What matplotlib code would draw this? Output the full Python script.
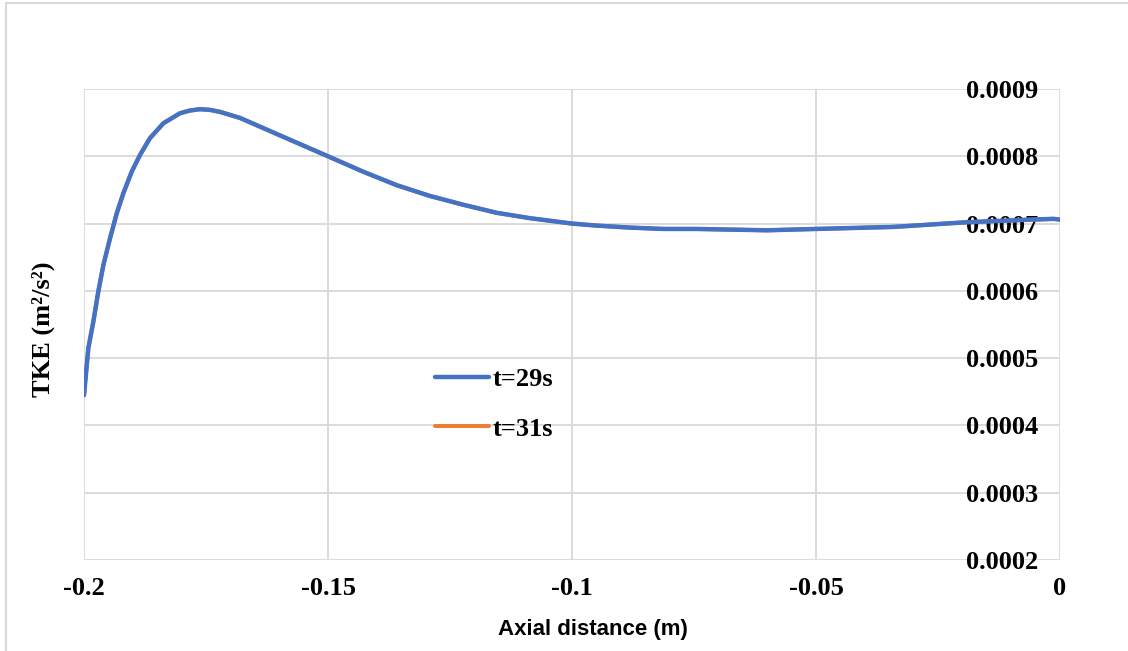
import matplotlib
matplotlib.use('Agg')
import matplotlib.pyplot as plt
from matplotlib.lines import Line2D

# axial positions (m) and turbulent kinetic energy (m2/s2)
axial = [-0.20000, -0.19911, -0.19809, -0.19707, -0.19604, -0.19467, -0.19330,
         -0.19194, -0.19023, -0.18852, -0.18648, -0.18374, -0.18033, -0.17828, -0.17623,
         -0.17418, -0.17213, -0.16803, -0.16393, -0.15920, -0.15000, -0.14276, -0.13590,
         -0.12910, -0.12230, -0.11544, -0.10860, -0.10000, -0.09495, -0.08810, -0.08129,
         -0.07450, -0.06000, -0.05000, -0.03420, -0.01910, -0.00550, -0.00140, 0.00000]
tke_29 = [0.000445, 0.000515, 0.000554, 0.000599, 0.000638, 0.000678, 0.000715,
          0.000745, 0.000777, 0.000802, 0.000827, 0.000849, 0.000864, 0.000868, 0.000870,
          0.000869, 0.000866, 0.000857, 0.000844, 0.000829, 0.000800, 0.000777, 0.000757,
          0.000741, 0.000728, 0.000716, 0.000708, 0.000700, 0.000697, 0.000694, 0.000692,
          0.000692, 0.000690, 0.000692, 0.000695, 0.000702, 0.000706, 0.000707, 0.000706]
# second time step sits right under the first one
tke_31 = list(tke_29)

x_ticks = [-0.2, -0.15, -0.1, -0.05, 0]
x_labels = ['-0.2', '-0.15', '-0.1', '-0.05', '0']
y_ticks = [0.0002, 0.0003, 0.0004, 0.0005, 0.0006, 0.0007, 0.0008, 0.0009]
y_labels = ['0.0002', '0.0003', '0.0004', '0.0005', '0.0006', '0.0007', '0.0008', '0.0009']

serif = 'Liberation Serif'
grid_col = '#d9d9d9'
fs = 19

fig = plt.figure(figsize=(11.28, 6.51), dpi=100)
ax = fig.add_axes([84 / 1128, 1 - 560 / 651, 976 / 1128, 471 / 651])

ax.plot(axial, tke_31, color='#ED7D31', lw=2.9, label='t=31s',
        solid_capstyle='round', solid_joinstyle='round')
ax.plot(axial, tke_29, color='#4472C4', lw=3.2, label='t=29s',
        solid_capstyle='round', solid_joinstyle='round')

ax.set_xlim(-0.2, 0)
ax.set_ylim(0.0002, 0.0009)
ax.set_xticks(x_ticks)
ax.set_xticklabels(x_labels, fontfamily=serif, fontweight='bold', fontsize=fs)
ax.set_yticks(y_ticks)
ax.set_yticklabels(y_labels, fontfamily=serif, fontweight='bold', fontsize=fs)

ax.yaxis.set_ticks_position('right')
ax.tick_params(axis='y', length=0, pad=-16)
ax.tick_params(axis='x', length=0, pad=12)
for lab in ax.get_yticklabels():
    lab.set_horizontalalignment('right')

ax.grid(True, color=grid_col, lw=1.3)
ax.set_axisbelow(True)
for s in ax.spines.values():
    s.set_visible(False)

ax.set_xlabel('Axial distance (m)', fontfamily='Liberation Sans', fontweight='bold',
              fontsize=16, va='center')
ax.xaxis.set_label_coords((593 - 84) / 976, -(630 - 560) / 471)
fig.text(43 / 1128, 1 - 329 / 651, 'TKE (m²/s²)', rotation=90,
         ha='center', va='center', fontfamily=serif, fontweight='bold', fontsize=fs)

handles, labels = ax.get_legend_handles_labels()
ax.legend(handles[::-1], labels[::-1], loc='center left',
          bbox_to_anchor=(435 / 1128, 1 - 404 / 651), bbox_transform=fig.transFigure,
          frameon=False, borderpad=0, borderaxespad=0, handlelength=2.05,
          handletextpad=0.15, labelspacing=1.0,
          prop={'family': serif, 'weight': 'bold', 'size': fs})

# outer chart border (left and top edges only)
fig.add_artist(Line2D([5.5 / 1128, 5.5 / 1128], [0, 1 - 2.5 / 651], color=grid_col, lw=1.5))
fig.add_artist(Line2D([5.5 / 1128, 1], [1 - 2.5 / 651, 1 - 2.5 / 651], color=grid_col, lw=1.5))

fig.savefig('out.png', dpi=100)
